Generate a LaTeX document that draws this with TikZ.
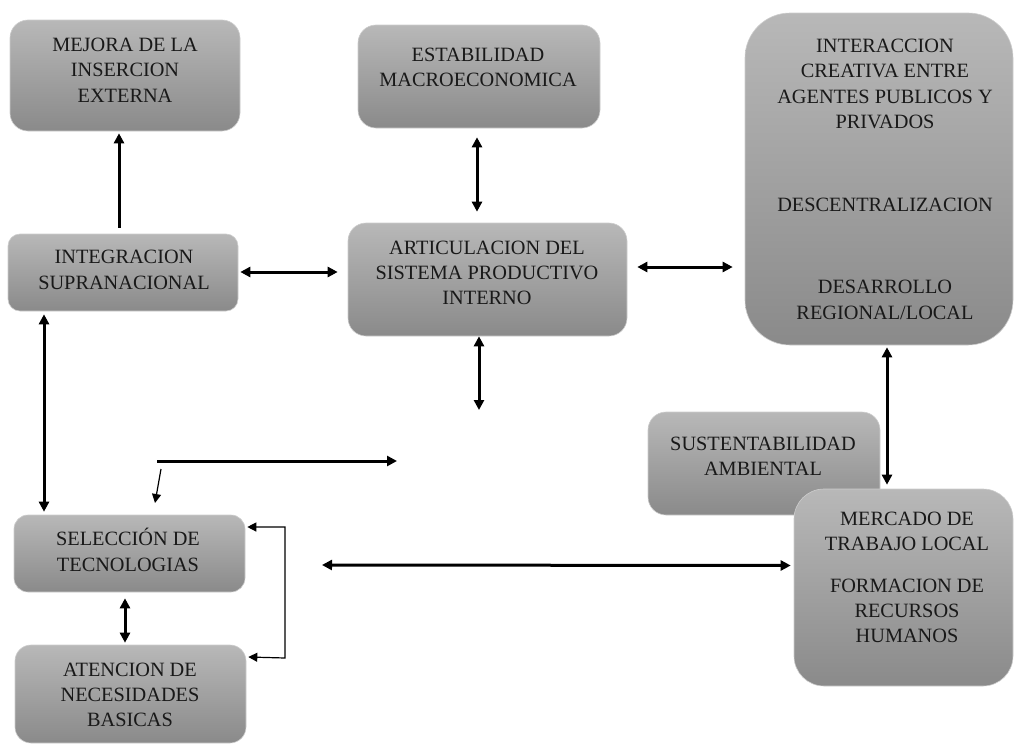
\documentclass[tikz,border=0pt]{standalone}
\usepackage{fontspec}
\setmainfont{Liberation Serif}
\usetikzlibrary{arrows.meta}
\definecolor{boxtop}{RGB}{184,184,184}
\definecolor{boxbot}{RGB}{138,138,138}
\definecolor{boxedge}{RGB}{205,205,205}
\begin{document}
\begin{tikzpicture}[x=1pt,y=-1pt,
  box/.style={rounded corners=#1, top color=boxtop, bottom color=boxbot, draw=boxedge, line width=0.6pt, inner sep=0pt},
  txt/.style={align=center, inner sep=0pt, text=black!90, font=\fontsize{20.3}{25.3}\selectfont},
  dbl/.style={line width=3pt, {Triangle[length=10pt,width=10pt]}-{Triangle[length=10pt,width=10pt]}},
  sgl/.style={line width=3pt, -{Triangle[length=10pt,width=10pt]}},
  thn/.style={line width=1.2pt},
  thtip/.style={-{Triangle[length=9pt,width=9pt]}},
  thboth/.style={{Triangle[length=9pt,width=9pt]}-{Triangle[length=9pt,width=9pt]}}
]
\useasboundingbox (0,0) rectangle (1015,744);

% boxes
\node[box=18pt, minimum width=230pt, minimum height=111pt] (mejora) at (125,75.5) {};
\node[box=18pt, minimum width=242pt, minimum height=103pt] (estab) at (479,76.5) {};
\node[box=45pt, minimum width=268pt, minimum height=332pt] (inter) at (879,179) {};
\node[box=12pt, minimum width=230pt, minimum height=77pt] (integ) at (123,272.5) {};
\node[box=18pt, minimum width=279pt, minimum height=113pt] (artic) at (487.5,279.5) {};
\node[box=18pt, minimum width=232pt, minimum height=103pt] (sust) at (764,463.5) {};
\node[box=30pt, minimum width=219pt, minimum height=197pt] (merc) at (903.5,587.5) {};
\node[box=14pt, minimum width=231pt, minimum height=77pt] (selec) at (129.5,553.5) {};
\node[box=16pt, minimum width=231pt, minimum height=98pt] (atenc) at (130.5,694) {};

% texts
\node[txt] (mejoraT) at (125,70) {MEJORA DE LA\\INSERCION\\EXTERNA};
\node[txt] (estabT) at (478,67.5) {ESTABILIDAD\\MACROECONOMICA};
\node[txt] (interT1) at (885,84) {INTERACCION\\CREATIVA ENTRE\\AGENTES PUBLICOS Y\\PRIVADOS};
\node[txt] (interT2) at (885,205) {DESCENTRALIZACION};
\node[txt] (interT3) at (885,300) {DESARROLLO\\REGIONAL/LOCAL};
\node[txt] (integT) at (124,270) {INTEGRACION\\SUPRANACIONAL};
\node[txt] (articT) at (487,273) {ARTICULACION DEL\\SISTEMA PRODUCTIVO\\INTERNO};
\node[txt] (sustT) at (763,456) {SUSTENTABILIDAD\\AMBIENTAL};
\node[txt] (mercT1) at (907,531.5) {MERCADO DE\\TRABAJO LOCAL};
\node[txt] (mercT2) at (907,611) {FORMACION DE\\RECURSOS\\HUMANOS};
\node[txt] (selecT) at (128,550) {SELECCIÓN DE\\TECNOLOGIAS};
\node[txt] (atencT) at (130,695) {ATENCION DE\\NECESIDADES\\BASICAS};

% free coordinates
\coordinate (free1) at (479,410);
\coordinate (hA) at (157,461);
\coordinate (hB) at (397,461);
\coordinate (sA) at (161,469);
\coordinate (sB) at (155,503);
\coordinate (br1) at (285,527);
\coordinate (br2) at (285,658);
\coordinate (lsA) at (322,565);

% connectors
\draw[sgl] ([xshift=-4pt,yshift=6pt]integ.north) -- ([xshift=-6pt,yshift=-2pt]mejora.south);
\draw[dbl] ([xshift=-2pt,yshift=-9pt]estab.south) -- ([xshift=-10.5pt,yshift=11pt]artic.north);
\draw[dbl] ([xshift=2pt,yshift=0.5pt]integ.east) -- ([xshift=-10pt,yshift=7.5pt]artic.west);
\draw[dbl] ([xshift=10pt,yshift=12.5pt]artic.east) -- ([xshift=-12pt,yshift=-88pt]inter.west);
\draw[dbl] ([xshift=-8.5pt]artic.south) -- (free1);
\draw[dbl] ([xshift=-79pt,yshift=-3pt]integ.south) -- ([xshift=-85.5pt,yshift=3pt]selec.north);
\draw[dbl] ([xshift=8pt,yshift=-2pt]inter.south) -- ([xshift=-16.5pt,yshift=4pt]merc.north);
\draw[sgl] (hA) -- (hB);
\draw[thn,thtip] (sA) -- (sB);
\draw[thn,thboth] ([xshift=2pt,yshift=26.5pt]selec.east) -- (br1) -- (br2) -- ([xshift=2pt,yshift=37pt]atenc.east);
\draw[dbl] (lsA) -- ([xshift=-3pt,yshift=22pt]merc.west);
\draw[dbl] ([xshift=-4.5pt,yshift=-6pt]selec.south) -- ([xshift=-5.5pt,yshift=2pt]atenc.north);
\end{tikzpicture}
\end{document}
